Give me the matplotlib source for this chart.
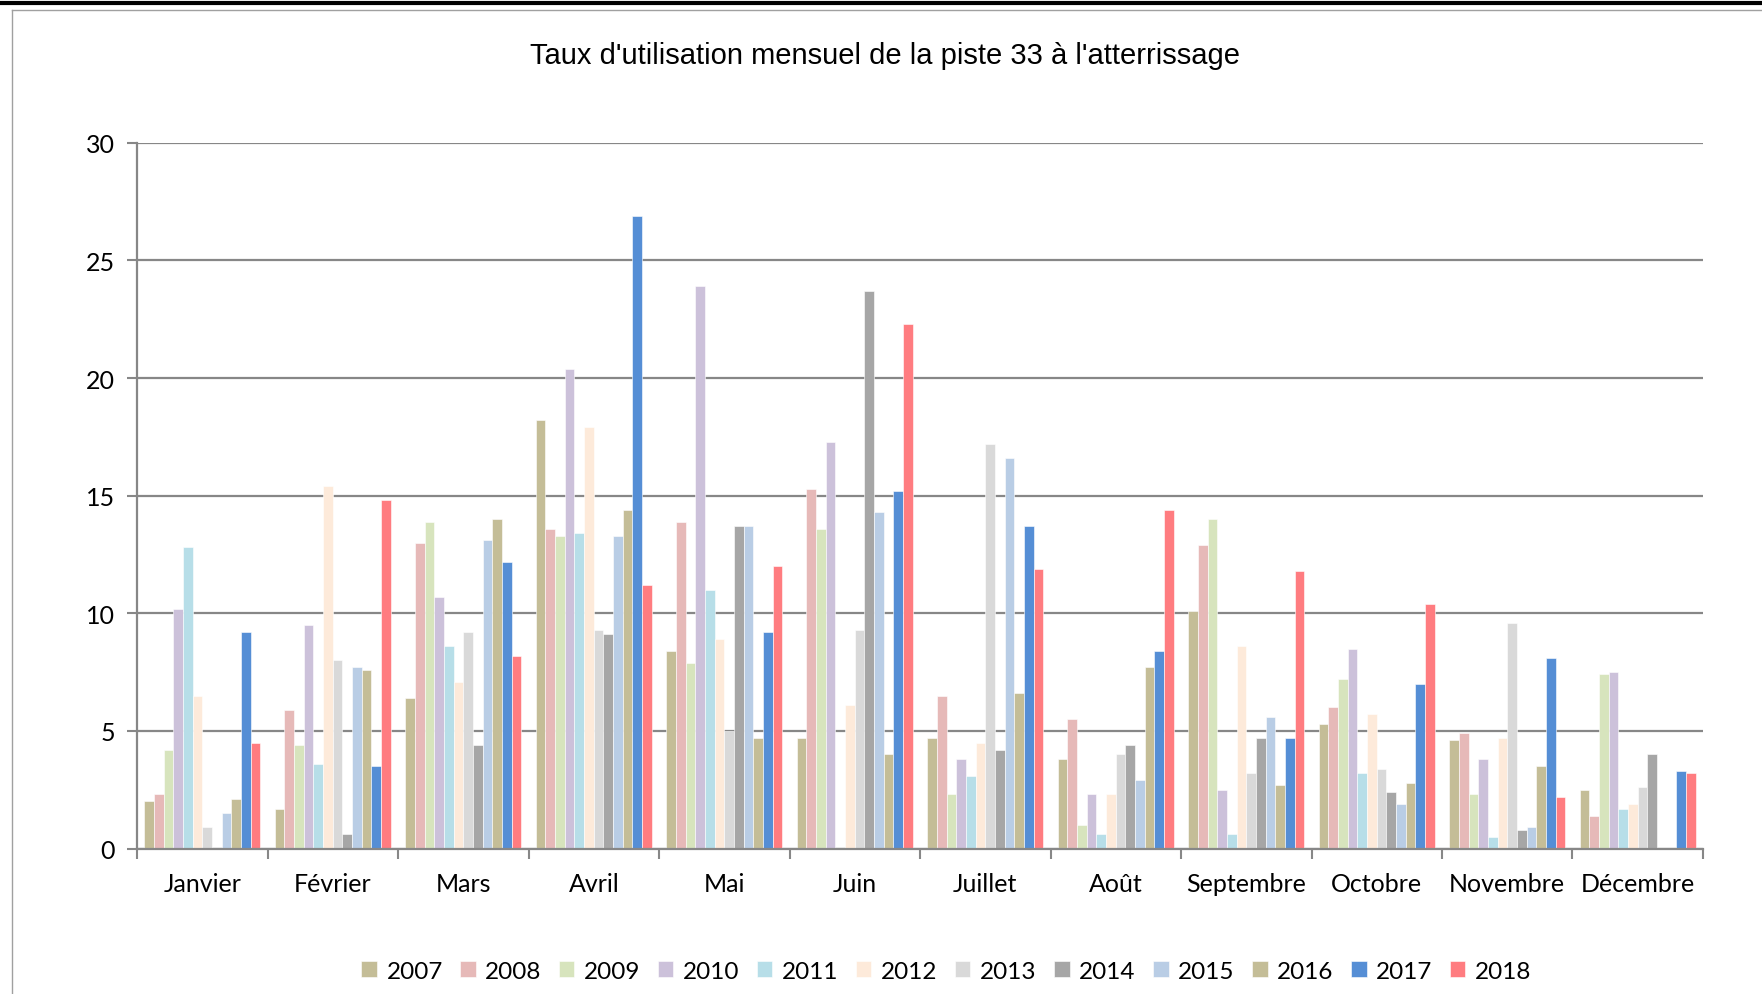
import numpy as np
import matplotlib.pyplot as plt
from matplotlib.lines import Line2D

# Données
mois = ['Janvier', 'Février', 'Mars', 'Avril', 'Mai', 'Juin', 'Juillet',
        'Août', 'Septembre', 'Octobre', 'Novembre', 'Décembre']
annees = ['2007', '2008', '2009', '2010', '2011', '2012', '2013', '2014',
          '2015', '2016', '2017', '2018']

v2007 = [2.0, 1.7, 6.4, 18.2, 8.4, 4.7, 4.7, 3.8, 10.1, 5.3, 4.6, 2.5]
v2008 = [2.3, 5.9, 13.0, 13.6, 13.9, 15.3, 6.5, 5.5, 12.9, 6.0, 4.9, 1.4]
v2009 = [4.2, 4.4, 13.9, 13.3, 7.9, 13.6, 2.3, 1.0, 14.0, 7.2, 2.3, 7.4]
v2010 = [10.2, 9.5, 10.7, 20.4, 23.9, 17.3, 3.8, 2.3, 2.5, 8.5, 3.8, 7.5]
v2011 = [12.8, 3.6, 8.6, 13.4, 11.0, 0.0, 3.1, 0.6, 0.6, 3.2, 0.5, 1.7]
v2012 = [6.5, 15.4, 7.1, 17.9, 8.9, 6.1, 4.5, 2.3, 8.6, 5.7, 4.7, 1.9]
v2013 = [0.9, 8.0, 9.2, 9.3, 5.0, 9.3, 17.2, 4.0, 3.2, 3.4, 9.6, 2.6]
v2014 = [0.0, 0.6, 4.4, 9.1, 13.7, 23.7, 4.2, 4.4, 4.7, 2.4, 0.8, 4.0]
v2015 = [1.5, 7.7, 13.1, 13.3, 13.7, 14.3, 16.6, 2.9, 5.6, 1.9, 0.9, 0.0]
v2016 = [2.1, 7.6, 14.0, 14.4, 4.7, 4.0, 6.6, 7.7, 2.7, 2.8, 3.5, 0.0]
v2017 = [9.2, 3.5, 12.2, 26.9, 9.2, 15.2, 13.7, 8.4, 4.7, 7.0, 8.1, 3.3]
v2018 = [4.5, 14.8, 8.2, 11.2, 12.0, 22.3, 11.9, 14.4, 11.8, 10.4, 2.2, 3.2]

series = [v2007, v2008, v2009, v2010, v2011, v2012,
          v2013, v2014, v2015, v2016, v2017, v2018]
couleurs = ['#C4BD97', '#E6B9B8', '#D7E4BD', '#CCC1DA', '#B7DEE8', '#FDEADA',
            '#D9D9D9', '#A6A6A6', '#B9CDE5', '#C4BD97', '#558ED5', '#FF7C80']

plt.rcParams['font.family'] = ['Lato', 'DejaVu Sans']

fig = plt.figure(figsize=(17.62, 9.95), dpi=100)
ax = fig.add_axes([0.0778, 0.1462, 0.8887, 0.7093])

x = np.arange(len(mois))
n = len(series)
largeur = 0.889 / n
for i, (vals, c, an) in enumerate(zip(series, couleurs, annees)):
    pos = x - 0.889 / 2 + largeur * (i + 0.5)
    ax.bar(pos, vals, width=largeur, color=c, edgecolor='white',
           linewidth=0.4, label=an, zorder=2)

ax.set_xlim(-0.5, len(mois) - 0.5)
ax.set_ylim(0, 30)
ax.set_yticks(range(0, 31, 5))
ax.yaxis.grid(True, color='#878787', linewidth=1.6, zorder=0)
ax.set_axisbelow(True)

ax.set_xticks(x)
ax.set_xticklabels(mois, fontsize=18)
ax.tick_params(axis='x', length=0, pad=17)
ax.set_xticks(np.arange(-0.5, len(mois), 1), minor=True)
ax.tick_params(axis='x', which='minor', length=7, width=1.5, color='#878787')
ax.tick_params(axis='y', labelsize=18, length=7, width=1.5, color='#878787', pad=9)

for s in ['top', 'right']:
    ax.spines[s].set_visible(False)
for s in ['left', 'bottom']:
    ax.spines[s].set_color('#878787')
    ax.spines[s].set_linewidth(1.6)
    ax.spines[s].set_zorder(3)

fig.text(0.5025, 0.944, "Taux d'utilisation mensuel de la piste 33 à l'atterrissage",
         ha='center', va='center', fontsize=21, family='Liberation Sans')

fig.legend(loc='center', bbox_to_anchor=(0.537, 0.023), ncol=12, frameon=False,
           fontsize=17.5, handlelength=0.65, handleheight=0.65, handletextpad=0.4,
           columnspacing=0.7)

# cadre autour du graphique
fig.add_artist(Line2D([0, 1], [0.996, 0.996], color='black', linewidth=3))
fig.add_artist(Line2D([0.007, 1], [0.989, 0.989], color='#A0A0A0', linewidth=1))
fig.add_artist(Line2D([0.007, 0.007], [0, 0.989], color='#A0A0A0', linewidth=1))

fig.savefig('out.png', dpi=100)
